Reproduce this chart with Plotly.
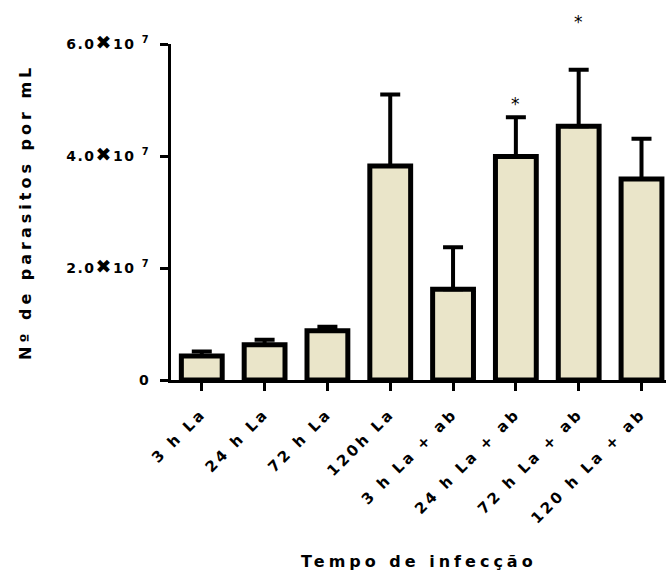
import plotly.graph_objects as go

# Parasite counts per mL (means and SEM), by infection time
groups = ["3 h La", "24 h La", "72 h La", "120h La",
          "3 h La + ab", "24 h La + ab", "72 h La + ab", "120 h La + ab"]
means = [0.43e7, 0.63e7, 0.88e7, 3.82e7, 1.62e7, 3.99e7, 4.53e7, 3.59e7]
sem = [0.08e7, 0.09e7, 0.07e7, 1.28e7, 0.75e7, 0.70e7, 1.01e7, 0.72e7]

# significance marks
sig_groups = [5, 6]
sig_y = [4.93e7, 6.40e7]
sig_text = ["*", "*"]

Y_MAX = 6e7
y_ticks = [0, 2e7, 4e7, 6e7]
X_SIGN = '<span style="font-size:19px">✖</span>'
y_ticktext = ["0"] + [f"{v / 1e7:.1f}{X_SIGN}10 <sup>7</sup>" for v in y_ticks[1:]]

FONT = "DejaVu Sans"
fill = "#EAE5C9"

fig = go.Figure()
fig.add_trace(go.Bar(
    x=list(range(len(groups))),
    y=means,
    width=0.65,
    marker=dict(color=fill, line=dict(color="black", width=5)),
    error_y=dict(type="data", symmetric=False, array=sem,
                 arrayminus=[0] * len(sem), color="black",
                 thickness=4, width=10),
    showlegend=False,
))

annotations = [
    dict(text="Tempo de infecção", xref="paper", yref="paper",
         x=0.5, y=0, yshift=-181, xanchor="center", yanchor="middle",
         showarrow=False,
         font=dict(family=FONT, size=16, weight="bold")),
    dict(text="Nº de parasitos por mL", xref="paper", yref="paper",
         x=0, y=0.5, xshift=-146, xanchor="center", yanchor="middle",
         textangle=-90, showarrow=False,
         font=dict(family=FONT, size=16, weight="bold")),
]
# asterisks above the significant groups (may sit above the axis top)
for g, yv, t in zip(sig_groups, sig_y, sig_text):
    annotations.append(dict(
        text=t, xref="x", yref="paper", x=g, y=yv / Y_MAX,
        xanchor="center", yanchor="middle", showarrow=False, xshift=2,
        font=dict(family=FONT, size=17, color="black", weight="normal"),
    ))

fig.update_layout(
    width=666, height=576,
    margin=dict(l=171, r=0, t=44, b=196),
    plot_bgcolor="white", paper_bgcolor="white",
    font=dict(family=FONT, color="black", size=14, weight="bold"),
    xaxis=dict(
        range=[-0.49, 7.39],
        tickvals=list(range(len(groups))), ticktext=groups,
        tickangle=-45,
        showline=True, linecolor="black", linewidth=3,
        ticks="outside", ticklen=8, tickwidth=3, tickcolor="black",
        showgrid=False, zeroline=False,
        ticklabelstandoff=8,
        tickfont=dict(family=FONT, size=15, weight="bold"),
    ),
    yaxis=dict(
        range=[0, Y_MAX],
        tickvals=y_ticks, ticktext=y_ticktext,
        showline=True, linecolor="black", linewidth=3,
        ticks="outside", ticklen=8, tickwidth=3, tickcolor="black",
        showgrid=False, zeroline=False,
        ticklabelstandoff=7,
        tickfont=dict(family=FONT, size=14, weight="bold"),
    ),
    annotations=annotations,
)

# wide letter spacing on labels and titles
spacing_js = """
var gd = document.getElementById('{plot_id}');
function spread() {
  gd.querySelectorAll('.annotation-text').forEach(function (t) { t.style.letterSpacing = '4px'; });
  gd.querySelectorAll('.xtick text').forEach(function (t) { t.style.letterSpacing = '3px'; });
  gd.querySelectorAll('.ytick text').forEach(function (t) { t.style.letterSpacing = '1.5px'; });
}
spread();
gd.on('plotly_afterplot', spread);
"""

fig.write_html("out.html", post_script=spacing_js)
